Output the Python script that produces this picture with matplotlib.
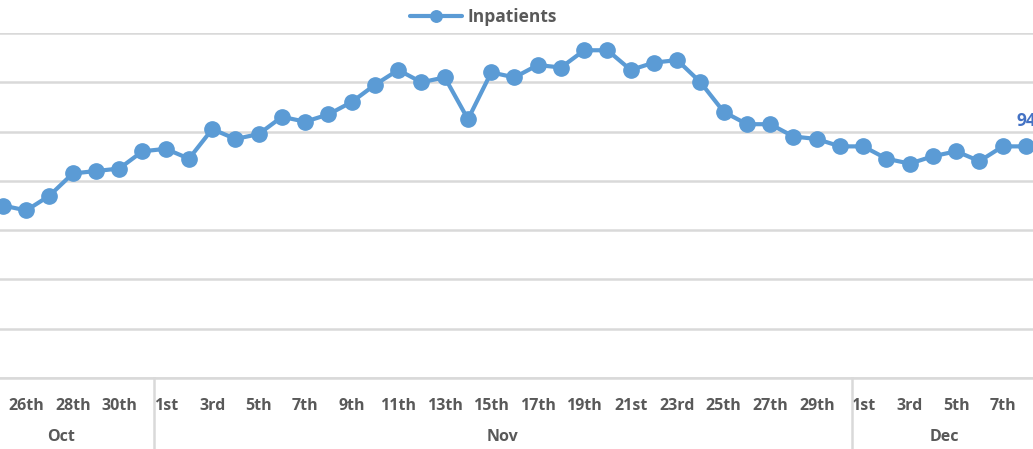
import matplotlib.pyplot as plt
import matplotlib.transforms as mtransforms
import numpy as np

plt.rcParams['font.family'] = ['Open Sans', 'DejaVu Sans']

# categories: Oct 24 .. Dec 8 (Oct 24 lies outside the visible crop)
months = ['Oct'] * 8 + ['Nov'] * 30 + ['Dec'] * 8
days = list(range(24, 32)) + list(range(1, 31)) + list(range(1, 9))

inpatients = [np.nan, 70, 68, 74, 83, 84, 85, 92,
              93, 89, 101, 97, 99, 106, 104, 107, 112, 119,
              125, 120, 122, 105, 124, 122, 127, 126, 133, 133,
              125, 128, 129, 120, 108, 103, 103, 98, 97, 94,
              94, 89, 87, 90, 92, 88, 94, 94]


def ordinal(d):
    if d in (11, 12, 13):
        return f'{d}th'
    return f"{d}{ {1: 'st', 2: 'nd', 3: 'rd'}.get(d % 10, 'th') }"


blue = '#5B9BD5'
grid = '#D9D9D9'
text = '#595959'

fig = plt.figure(figsize=(10.33, 4.49), dpi=100)
ax = fig.add_axes([0, 0.158, 1, 0.7685])

x = np.arange(len(days))
ax.plot(x, inpatients, color=blue, lw=3, marker='o', ms=11,
        label='Inpatients', solid_capstyle='round')

ax.set_ylim(0, 140)
ax.set_yticks(np.arange(0, 141, 20))
ax.yaxis.grid(True, color=grid, lw=1.8)
ax.set_axisbelow(True)
ax.tick_params(axis='y', left=False, labelleft=False)
for s in ['left', 'right', 'top']:
    ax.spines[s].set_visible(False)
ax.spines['bottom'].set_color(grid)
ax.spines['bottom'].set_linewidth(1.8)

ax.set_xticks(x[::2])
ax.set_xticklabels([ordinal(d) for d in days[::2]], color=text,
                   fontsize=11.5, fontweight='bold')
ax.tick_params(axis='x', length=0, pad=14)
step = 23.25
ax.set_xlim(1 - 3 / step, 1 + 1030 / step)

# month groups
trans = mtransforms.blended_transform_factory(ax.transData, ax.transAxes)
idx = 0
for m in ['Oct', 'Nov', 'Dec']:
    n = months.count(m)
    start, end = idx - 0.5, idx + n - 0.5
    ax.text((start + end) / 2, -0.171, m, transform=trans, ha='center',
            va='center', color=text, fontsize=11.5, fontweight='bold',
            clip_on=False)
    if idx > 0:
        ax.plot([start, start], [0, -0.21], transform=trans, color=grid,
                lw=1.8, clip_on=False)
    idx += n
ax.set_xlim(1 - 3 / step, 1 + 1030 / step)

# last value label
ax.annotate(f'{inpatients[-1]:.0f}', (x[-1], inpatients[-1]),
            xytext=(0, 12), textcoords='offset points', ha='center',
            va='bottom', color='#4472C4', fontsize=12.5, fontweight='bold',
            annotation_clip=False)

fig.legend(loc='center', bbox_to_anchor=(0.468, 0.963), frameon=False,
           prop={'size': 12.5, 'weight': 'bold'}, labelcolor=text,
           handlelength=3.0, handletextpad=0.3, markerscale=0.75)

fig.savefig('out.png', dpi=100)
